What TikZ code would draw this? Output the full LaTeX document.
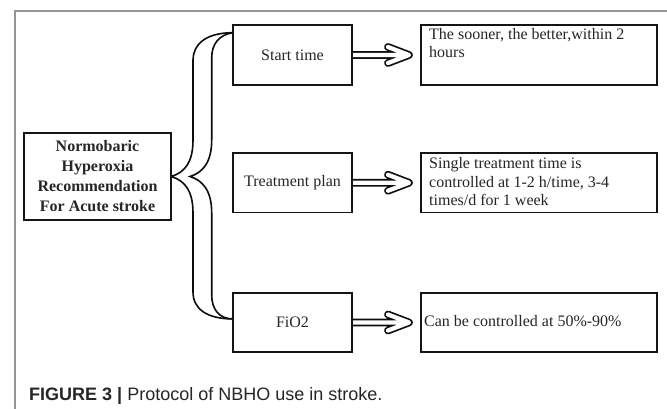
\documentclass[tikz,border=0pt]{standalone}
\usepackage{fontspec}
\setmainfont{Liberation Serif}
\newfontfamily\capfont{Liberation Sans}
\newcommand\rfont{\fontsize{16}{18.5}\selectfont}
\usetikzlibrary{calc}
\pgfdeclarelayer{bg}
\pgfsetlayers{bg,main}
\begin{document}
\begin{tikzpicture}[x=1pt,y=-1pt,
  nodebox/.style={draw=black!92, line width=1.8pt, fill=white, inner sep=0pt, outer sep=0pt},
  lbox/.style={nodebox, minimum width=119pt, minimum height=59.5pt,
    font=\rfont, text=black!85},
  rbox/.style={nodebox, minimum width=236pt, minimum height=59.5pt},
  rtext/.style={font=\rfont, text=black!85, align=left, inner sep=0pt},
  bracestyle/.style={line width=1.6pt, black!95},
  dblarrow/.style={draw=black!95, double=white, line width=1.7pt, double distance=4.3pt,
    line cap=round, line join=round},
  framestyle/.style={draw=black!42, line width=1.3pt}
]
\useasboundingbox (0,0) rectangle (667,409);
\begin{pgfonlayer}{bg}
\fill[white] (0,0) rectangle (667,409);
\end{pgfonlayer}
\draw[framestyle] (667,11) -- (15,11) -- (15,409);

% main node
\node[nodebox, minimum width=147pt, minimum height=87pt, align=center,
  font=\bfseries\fontsize{16}{20}\selectfont, text=black!85] (main) at (97.5,176.5)
  {Normobaric\\Hyperoxia\\Recommendation\\For Acute stroke};

% left boxes
\node[lbox] (st) at (292.5,55) {Start time};
\node[lbox] (tp) at (292.5,182.75) {Treatment plan};
\node[lbox] (fio) at (292.5,322.5) {FiO2};

% right boxes
\node[rbox] (sr) at (539,55) {};
\node[rbox] (tr) at (539,182.75) {};
\node[rbox] (fr) at (539,322.5) {};
\node[rtext, anchor=north west] (srt) at ($(sr.north west)+(8,2.6)$)
  {The sooner, the better,within 2\\hours};
\node[rtext, anchor=west] (trt) at ($(tr.west)+(8,-1.2)$)
  {Single treatment time is\\controlled at 1-2 h/time, 3-4\\times/d for 1 week};
\node[rtext, anchor=west] (frt) at ($(fr.west)+(3,-1)$)
  {Can be controlled at 50\%-90\%};

% brace
\coordinate (bt) at ($(st.north west)!0.125!(st.south west)$);
\coordinate (bb) at ($(fio.north west)!0.44!(fio.south west)$);
\coordinate (itip) at ($(main.east)+(19,0)$);
\begin{pgfonlayer}{bg}
\draw[bracestyle] (bt) .. controls +(-28,0) and +(0,-15) .. (193,60) -- (193,140)
  .. controls +(0,22) and +(14,-4) .. (main.east)
  .. controls +(14,4) and +(0,-22) .. (193,213) -- (193,292)
  .. controls +(0,17) and +(-26,0) .. (bb);
\draw[bracestyle] (bt) .. controls +(-14,2) and +(0,-14) .. (211.7,58) -- (211.7,140)
  .. controls +(0,22) and +(13,-4) .. (itip)
  .. controls +(13,4) and +(0,-22) .. (211.7,213) -- (211.7,295)
  .. controls +(0,14) and +(-14,0) .. (bb);

% arrows
\foreach \a/\b in {st/sr, tp/tr, fio/fr}{
  \draw[dblarrow] (\a.east) -- ($(\b.west)+(-16,0)$)
    ($(\b.west)+(-33,-8)$) -- ($(\b.west)+(-12,0)$) -- ($(\b.west)+(-33,8)$);
}
\end{pgfonlayer}

% caption
\node[anchor=base west, inner sep=0pt, font=\capfont\fontsize{18}{20}\selectfont,
  text=black!85] (cap) at (29,400)
  {\textbf{FIGURE 3 |} Protocol of NBHO use in stroke.};
\end{tikzpicture}
\end{document}
